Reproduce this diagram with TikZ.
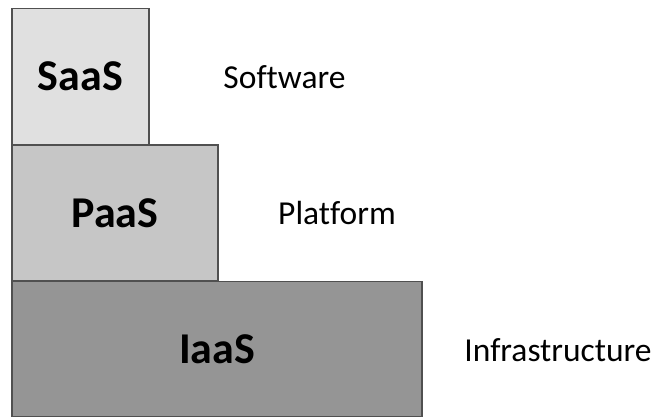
\documentclass[tikz,border=0pt]{standalone}
\usepackage{fontspec}
\setmainfont{Carlito}[Ligatures=NoCommon]
\definecolor{saasfill}{HTML}{E0E0E0}
\definecolor{paasfill}{HTML}{C6C6C6}
\definecolor{iaasfill}{HTML}{959595}
\definecolor{edge}{HTML}{505050}
\begin{document}
\begin{tikzpicture}[x=1pt,y=-1pt,
  layer/.style={draw=edge,line width=1.5pt,inner sep=0pt,outer sep=0pt,
    font=\fontsize{44}{48}\selectfont\bfseries},
  caption/.style={inner sep=0pt,font=\fontsize{33.5}{38}\selectfont}]
\useasboundingbox (0,0) rectangle (656,418);
\fill[white] (0,0) rectangle (656,418);
\node[layer,fill=saasfill,minimum width=137pt,minimum height=136pt] (saas) at (80.5,76.5) {SaaS};
\node[layer,fill=paasfill,minimum width=206pt,minimum height=136pt] (paas) at (115,213) {PaaS};
\node[layer,fill=iaasfill,minimum width=410pt,minimum height=135pt] (iaas) at (217,349) {IaaS};
\node[caption] (sw) at (284.5,77) {Software};
\node[caption] (pf) at (337,213) {Platform};
\node[caption] (inf) at (558,350) {Infrastructure};
\end{tikzpicture}
\end{document}
